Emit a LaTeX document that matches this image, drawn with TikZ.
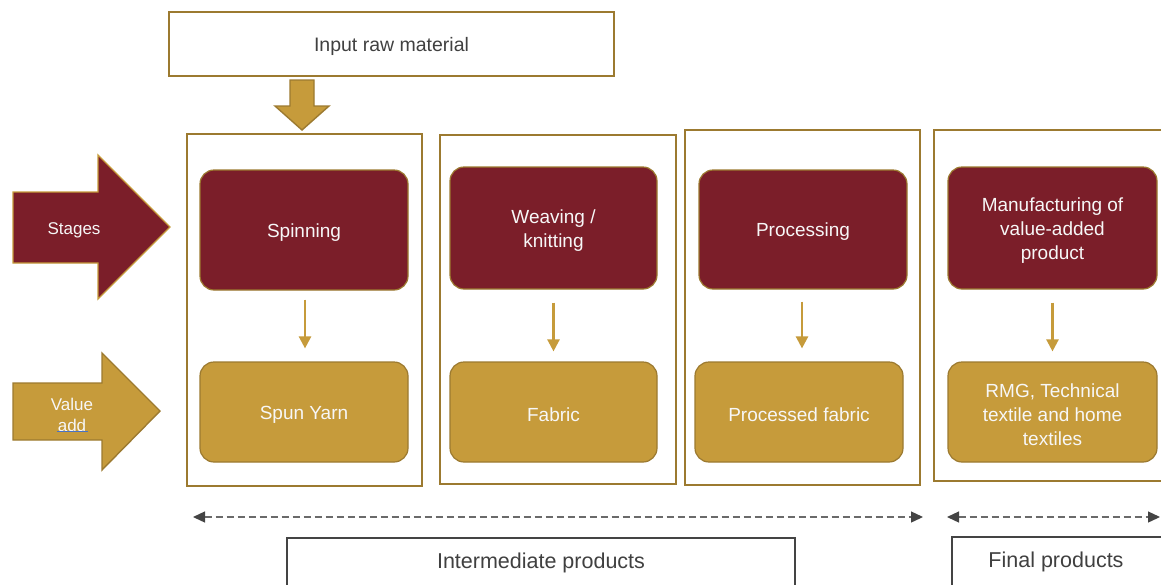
\documentclass[tikz,border=0pt]{standalone}
\usepackage{fontspec}
\setmainfont{Liberation Sans}
\usetikzlibrary{arrows.meta}
\definecolor{wine}{HTML}{7B1E29}
\definecolor{gold}{HTML}{C69B3B}
\definecolor{goldline}{HTML}{9C7A30}
\definecolor{txtgray}{HTML}{404040}
\definecolor{boxgray}{HTML}{444444}
\definecolor{dashgray}{HTML}{6A6A6A}
\definecolor{headgray}{HTML}{444444}
\definecolor{spellblue}{HTML}{4A72C4}
\begin{document}
\begin{tikzpicture}[x=1pt,y=-1pt,
  colbox/.style={draw=goldline, line width=1.8pt, fill=white, inner sep=0pt},
  stagebox/.style={draw=goldline, fill=wine, rounded corners=14pt, line width=1.2pt,
    inner sep=0pt, minimum width=208pt},
  valbox/.style={draw=goldline, fill=gold, rounded corners=14pt, line width=1.2pt,
    inner sep=0pt, minimum width=208pt, minimum height=100pt},
  boxtext/.style={text=white!94!gray, font=\fontsize{19}{24}\selectfont, align=center, inner sep=0pt},
  smallarr/.style={draw=gold, line width=2.4pt, -{Triangle[length=12pt,width=12pt]}},
  dasharr/.style={draw=dashgray, line width=1.3pt, dash pattern=on 7pt off 4pt,
    {Triangle[length=12pt,width=11pt,fill=headgray,color=headgray]}-{Triangle[length=12pt,width=11pt,fill=headgray,color=headgray]}},
  prodbox/.style={draw=boxgray, line width=2.6pt, fill=white, inner sep=0pt},
  prodtext/.style={text=txtgray, font=\fontsize{21.5}{26}\selectfont},
  blockred/.style={fill=wine, draw=gold, line width=1.4pt, line join=miter},
  blockgold/.style={fill=gold, draw=goldline, line width=1.4pt, line join=miter}
]
\useasboundingbox (0,0) rectangle (1161,584);
\clip (0,0) rectangle (1161,584);

% input raw material
\node[draw=goldline, line width=1.8pt, minimum width=445pt, minimum height=64pt,
  inner sep=0pt] (input) at (391.5,44) {};
\node[text=txtgray, font=\fontsize{19.5}{24}\selectfont] (inputtext) at ([yshift=-2.5pt]input.center) {Input raw material};

% down block arrow
\draw[blockgold] (290,80) -- (314,80) -- (314,106) -- (329,106) -- (302,130)
  -- (275,106) -- (290,106) -- cycle;

% column frames
\node[colbox, minimum width=235pt, minimum height=352pt] (c1) at (304.5,310) {};
\node[colbox, minimum width=236pt, minimum height=349pt] (c2) at (558,309.5) {};
\node[colbox, minimum width=235pt, minimum height=355pt] (c3) at (802.5,307.5) {};
\node[colbox, minimum width=236pt, minimum height=351pt] (c4) at (1052,305.5) {};

% stage boxes
\node[stagebox, minimum height=120pt] (r1) at (304,230) {};
\node[stagebox, minimum height=122pt, minimum width=207pt] (r2) at (553.5,228) {};
\node[stagebox, minimum height=119pt] (r3) at (803,229.5) {};
\node[stagebox, minimum height=122pt, minimum width=209pt] (r4) at (1052.5,228) {};
\node[boxtext] (r1t) at ([yshift=-2.5pt]r1.center) {Spinning};
\node[boxtext] (r2t) at ([yshift=-3pt]r2.center) {Weaving /\\knitting};
\node[boxtext] (r3t) at ([yshift=-2.5pt]r3.center) {Processing};
\node[boxtext] (r4t) at ([yshift=-3pt]r4.center) {Manufacturing of\\value-added\\product};

% value boxes
\node[valbox] (g1) at (304,412) {};
\node[valbox, minimum width=207pt] (g2) at (553.5,412) {};
\node[valbox] (g3) at (799,412) {};
\node[valbox, minimum width=209pt] (g4) at (1052.5,412) {};
\node[boxtext] (g1t) at ([yshift=-2.5pt]g1.center) {Spun Yarn};
\node[boxtext] (g2t) at ([yshift=-2.5pt]g2.center) {Fabric};
\node[boxtext] (g3t) at ([yshift=-2.5pt]g3.center) {Processed fabric};
\node[boxtext] (g4t) at ([yshift=-2.5pt]g4.center) {RMG, Technical\\textile and home\\textiles};

% small arrows
\draw[smallarr] ([xshift=1pt,yshift=-9pt]r1.south) -- ([xshift=1pt,yshift=13pt]g1.north);
\draw[smallarr] ([yshift=-13pt]r2.south) -- ([yshift=10pt]g2.north);
\draw[smallarr] ([xshift=-1pt,yshift=-12pt]r3.south) -- ([xshift=3pt,yshift=13pt]g3.north);
\draw[smallarr] ([yshift=-13pt]r4.south) -- ([yshift=10pt]g4.north);

% left block arrows
\draw[blockred] (13,192) -- (98,192) -- (98,155) -- (170,227) -- (98,299) -- (98,263)
  -- (13,263) -- cycle;
\node[text=white!94!gray, font=\fontsize{17}{21}\selectfont] (stages) at (74,230) {Stages};
\draw[blockgold] (13,383) -- (102,383) -- (102,353) -- (160,411) -- (102,470) -- (102,440)
  -- (13,440) -- cycle;
\node[text=white!94!gray, font=\fontsize{17}{21}\selectfont, align=center] (valadd) at (72,415) {Value\\add};
\draw[spellblue, line width=0.8pt] (57,431) -- (88,431);

% dashed range arrows
\coordinate (d1l) at (193,517);
\coordinate (d1r) at (923,517);
\coordinate (d2l) at (947,517);
\coordinate (d2r) at (1160,517);
\draw[dasharr] (d1l) -- (d1r);
\draw[dasharr] (d2l) -- (d2r);

% product boxes
\node[prodbox, minimum width=508pt, minimum height=70pt] (ibox) at (541,573) {};
\node[prodtext] (itext) at (541,563) {Intermediate products};
\node[prodbox, minimum width=230pt, minimum height=70pt] (fbox) at (1067,572) {};
\node[prodtext] (ftext) at (1056,562) {Final products};
\end{tikzpicture}
\end{document}
